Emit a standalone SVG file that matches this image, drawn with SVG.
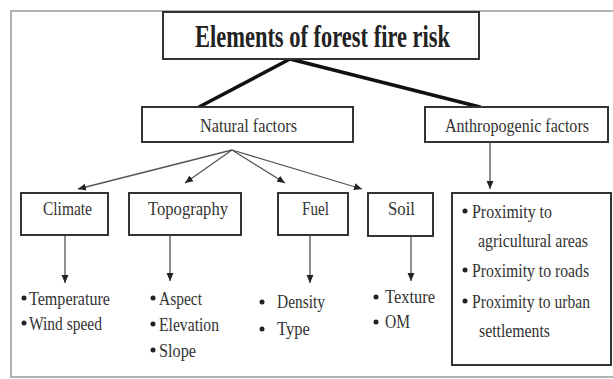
<svg xmlns="http://www.w3.org/2000/svg" width="613" height="379" viewBox="0 0 613 379">
<style>
.box{fill:#fff;stroke:#333;stroke-width:2}
.t{font-family:"Liberation Serif","Times New Roman",serif;font-size:18px;fill:#333}
.title{font-family:"Liberation Serif","Times New Roman",serif;font-size:31px;font-weight:bold;fill:#222}
.thick{stroke:#111;stroke-width:3.5;fill:none;stroke-linecap:round}
.thin{stroke:#555;stroke-width:1.3;fill:none}
.b{fill:#222}
</style>
<defs>
<marker id="ah" markerUnits="userSpaceOnUse" markerWidth="8" markerHeight="8" viewBox="0 0 8 8" refX="8" refY="4" orient="auto">
<path d="M0,0.5 L8,4 L0,7.5 z" fill="#222"/>
</marker>
</defs>
<rect x="0" y="0" width="613" height="379" fill="#fff"/>
<rect x="11" y="11" width="610" height="366" fill="none" stroke="#999" stroke-width="1.5"/>
<g id="connectors">
<line class="thick" x1="290" y1="59" x2="199" y2="107"/>
<line class="thick" x1="290" y1="59" x2="480" y2="107"/>
<line class="thin" x1="232" y1="150" x2="78" y2="189" marker-end="url(#ah)"/>
<line class="thin" x1="232" y1="150" x2="185" y2="183" marker-end="url(#ah)"/>
<line class="thin" x1="232" y1="150" x2="285" y2="183" marker-end="url(#ah)"/>
<line class="thin" x1="232" y1="150" x2="362" y2="189" marker-end="url(#ah)"/>
<line class="thin" x1="490" y1="142" x2="490" y2="189" marker-end="url(#ah)"/>
<line class="thin" x1="65" y1="235" x2="65" y2="283" marker-end="url(#ah)"/>
<line class="thin" x1="170" y1="235" x2="170" y2="281" marker-end="url(#ah)"/>
<line class="thin" x1="310" y1="235" x2="310" y2="283" marker-end="url(#ah)"/>
<line class="thin" x1="411" y1="236" x2="411" y2="281" marker-end="url(#ah)"/>
</g>
<g id="title">
<rect class="box" x="163" y="12" width="316" height="47"/>
<text class="title" x="195" y="47" textLength="255" lengthAdjust="spacingAndGlyphs">Elements of forest fire risk</text>
</g>
<g id="natural">
<rect class="box" x="142" y="107" width="211" height="35"/>
<text class="t" x="200" y="132" textLength="97" lengthAdjust="spacingAndGlyphs">Natural factors</text>
</g>
<g id="anthropogenic">
<rect class="box" x="425" y="107" width="183" height="35"/>
<text class="t" x="445" y="132" textLength="144" lengthAdjust="spacingAndGlyphs">Anthropogenic factors</text>
</g>
<g id="climate">
<rect class="box" x="21" y="193" width="87" height="42"/>
<text class="t" x="43" y="215" textLength="49" lengthAdjust="spacingAndGlyphs">Climate</text>
</g>
<g id="topography">
<rect class="box" x="129" y="193" width="112" height="42"/>
<text class="t" x="148" y="215" textLength="80" lengthAdjust="spacingAndGlyphs">Topography</text>
</g>
<g id="fuel">
<rect class="box" x="278" y="193" width="70" height="42"/>
<text class="t" x="302" y="215" textLength="27" lengthAdjust="spacingAndGlyphs">Fuel</text>
</g>
<g id="soil">
<rect class="box" x="368" y="193" width="65" height="43"/>
<text class="t" x="388" y="215" textLength="27" lengthAdjust="spacingAndGlyphs">Soil</text>
</g>
<g id="climate-items">
<circle class="b" cx="24" cy="298" r="2.5"/>
<text class="t" x="29" y="305" textLength="81" lengthAdjust="spacingAndGlyphs">Temperature</text>
<circle class="b" cx="24" cy="323" r="2.5"/>
<text class="t" x="29" y="330" textLength="73" lengthAdjust="spacingAndGlyphs">Wind speed</text>
</g>
<g id="topography-items">
<circle class="b" cx="153" cy="298" r="2.5"/>
<text class="t" x="159" y="305" textLength="43" lengthAdjust="spacingAndGlyphs">Aspect</text>
<circle class="b" cx="153" cy="324" r="2.5"/>
<text class="t" x="159" y="331" textLength="60" lengthAdjust="spacingAndGlyphs">Elevation</text>
<circle class="b" cx="153" cy="350" r="2.5"/>
<text class="t" x="159" y="357" textLength="37" lengthAdjust="spacingAndGlyphs">Slope</text>
</g>
<g id="fuel-items">
<circle class="b" cx="262" cy="302" r="2.5"/>
<text class="t" x="277" y="308" textLength="48" lengthAdjust="spacingAndGlyphs">Density</text>
<circle class="b" cx="262" cy="329" r="2.5"/>
<text class="t" x="277" y="335" textLength="33" lengthAdjust="spacingAndGlyphs">Type</text>
</g>
<g id="soil-items">
<circle class="b" cx="376" cy="297" r="2.5"/>
<text class="t" x="385" y="303" textLength="50" lengthAdjust="spacingAndGlyphs">Texture</text>
<circle class="b" cx="376" cy="322" r="2.5"/>
<text class="t" x="385" y="328" textLength="25" lengthAdjust="spacingAndGlyphs">OM</text>
</g>
<g id="anthropogenic-items">
<rect class="box" x="452" y="193" width="159" height="172"/>
<circle class="b" cx="465" cy="211" r="2.5"/>
<text class="t" x="472" y="218" textLength="80" lengthAdjust="spacingAndGlyphs">Proximity to</text>
<text class="t" x="478" y="247" textLength="110" lengthAdjust="spacingAndGlyphs">agricultural areas</text>
<circle class="b" cx="465" cy="270" r="2.5"/>
<text class="t" x="472" y="277" textLength="117" lengthAdjust="spacingAndGlyphs">Proximity to roads</text>
<circle class="b" cx="465" cy="301" r="2.5"/>
<text class="t" x="472" y="308" textLength="118" lengthAdjust="spacingAndGlyphs">Proximity to urban</text>
<text class="t" x="479" y="337" textLength="71" lengthAdjust="spacingAndGlyphs">settlements</text>
</g>
</svg>
